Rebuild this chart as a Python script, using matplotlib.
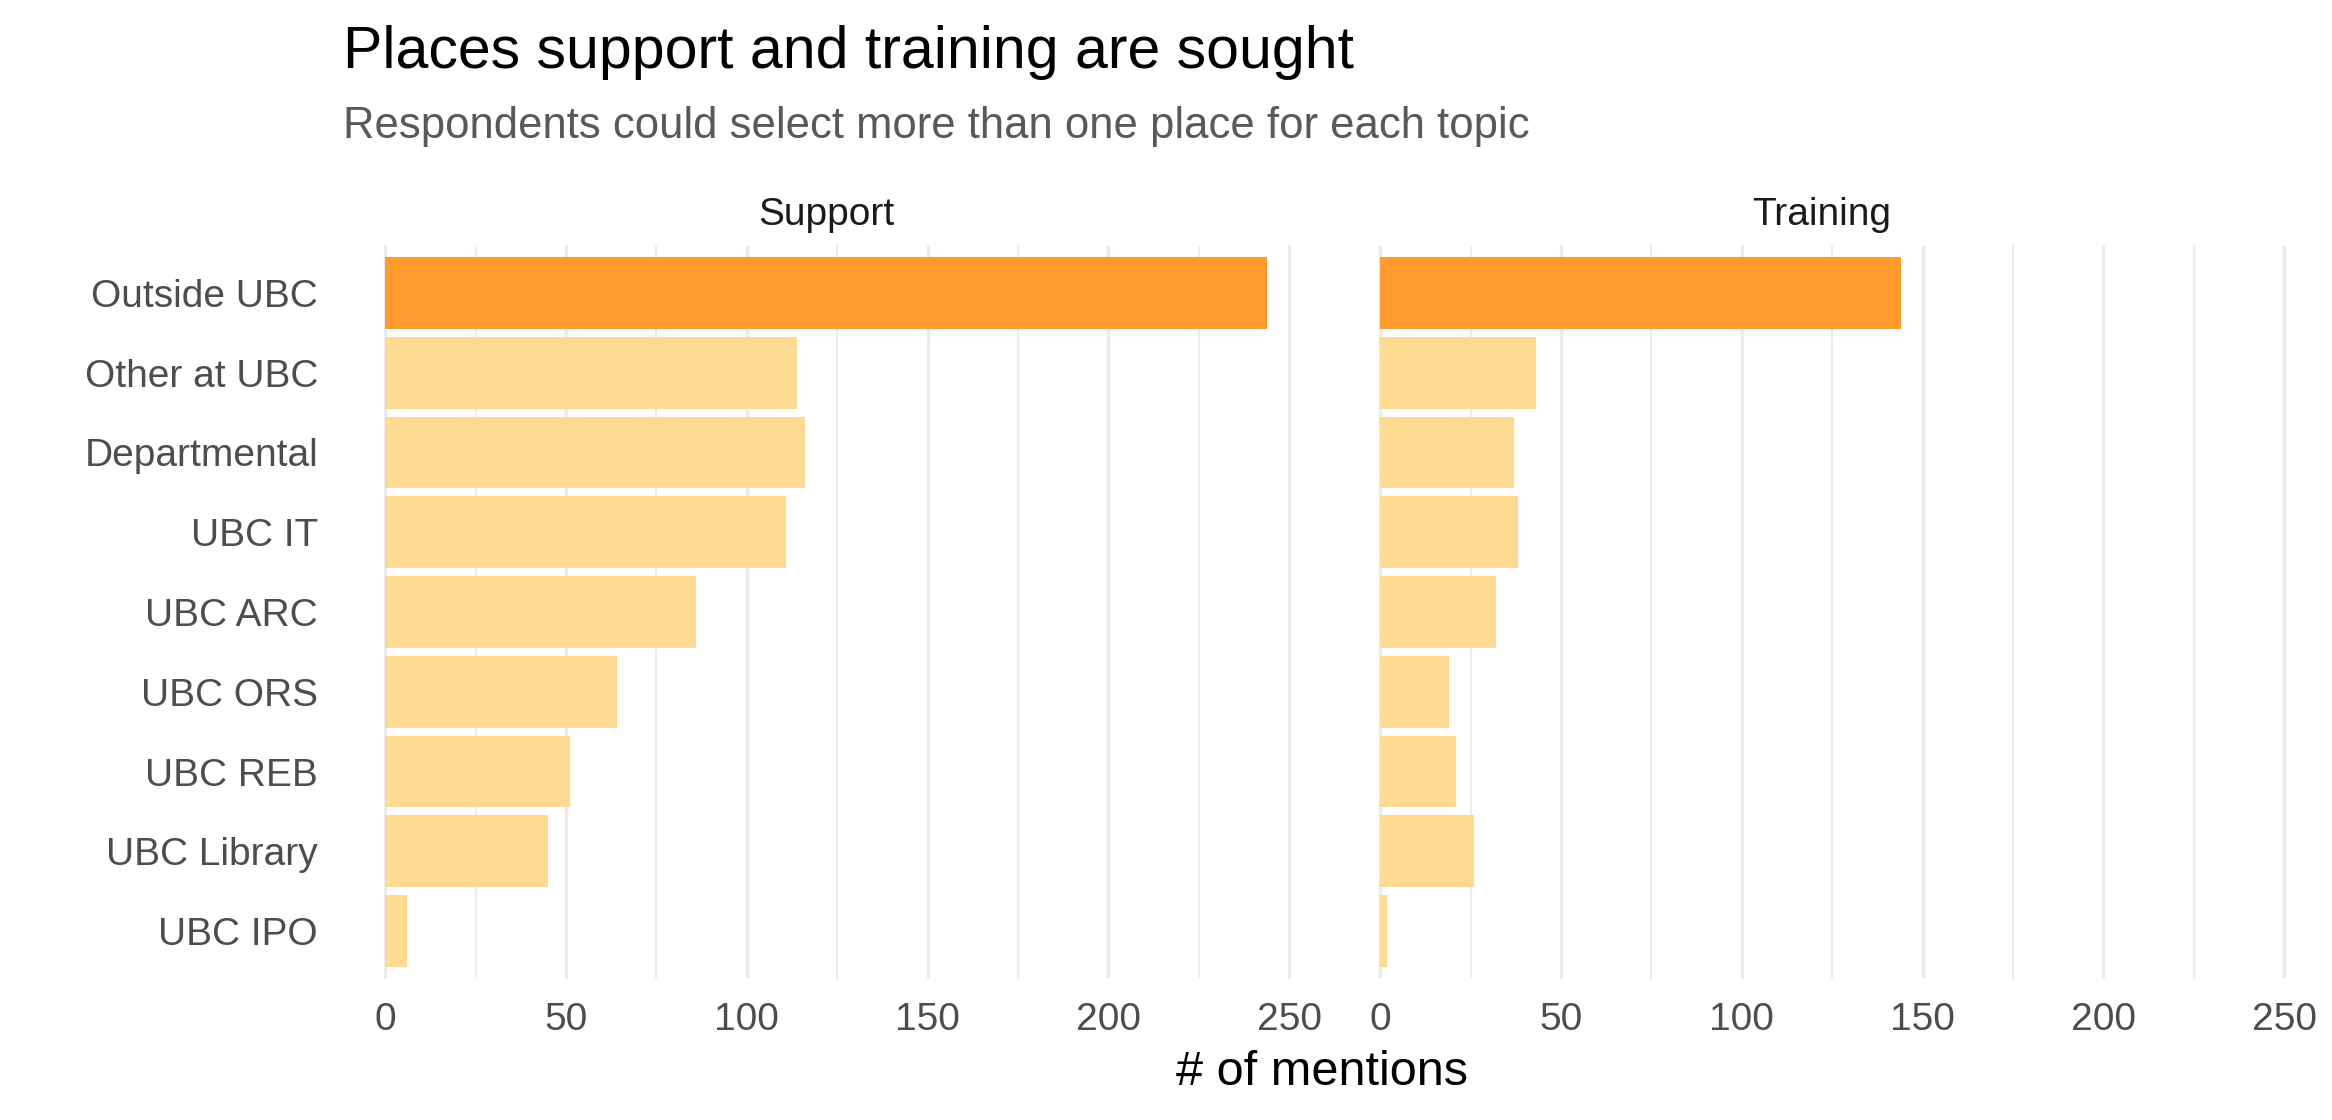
import matplotlib
matplotlib.use("Agg")
import matplotlib.pyplot as plt
import numpy as np

plt.rcParams["font.family"] = ["Liberation Sans", "DejaVu Sans"]

# data
places = ["Outside UBC", "Other at UBC", "Departmental", "UBC IT", "UBC ARC",
          "UBC ORS", "UBC REB", "UBC Library", "UBC IPO"]
support = [244, 114, 116, 111, 86, 64, 51, 45, 6]
training = [144, 43, 37, 38, 32, 19, 21, 26, 2]
highlight = ["Outside UBC"]
facets = ["Support", "Training"]
major_ticks = [0, 50, 100, 150, 200, 250]
minor_ticks = [25, 75, 125, 175, 225]

HI_COLOR = "#FE9A2E"
LO_COLOR = "#FDD991"
GRID = "#EBEBEB"

W, H = 2332, 1120
fig = plt.figure(figsize=(W / 100, H / 100), dpi=100)

xmax = max(max(support), max(training))
pad = 0.05 * xmax
xlim = (-pad, xmax + pad)
px_per_unit = 3.616
panel_w = (xlim[1] - xlim[0]) * px_per_unit
panel_top, panel_bot = 245, 979
lefts = [341, 1336]

ypos = np.arange(len(places))[::-1] + 1
colors = [HI_COLOR if p in highlight else LO_COLOR for p in places]

axes = []
for i, (name, vals) in enumerate(zip(facets, [support, training])):
    ax = fig.add_axes([lefts[i] / W, 1 - panel_bot / H, panel_w / W,
                       (panel_bot - panel_top) / H])
    ax.barh(ypos, vals, height=0.9, color=colors, zorder=2)
    ax.set_xlim(*xlim)
    ax.set_ylim(0.4, len(places) + 0.6)
    ax.set_xticks(major_ticks)
    ax.set_xticks(minor_ticks, minor=True)
    ax.grid(axis="x", which="major", color=GRID, linewidth=2.4, zorder=0)
    ax.grid(axis="x", which="minor", color=GRID, linewidth=1.3, zorder=0)
    ax.set_axisbelow(True)
    for s in ax.spines.values():
        s.set_visible(False)
    ax.tick_params(axis="both", which="both", length=0)
    ax.tick_params(axis="x", pad=16.5, labelsize=28, labelcolor="#4D4D4D")
    ax.set_yticks(ypos)
    if i == 0:
        ax.set_yticklabels(places)
        ax.tick_params(axis="y", pad=16.5, labelsize=28, labelcolor="#4D4D4D")
    else:
        ax.set_yticklabels([])
    ax.text(0.5, 1 + (panel_top - 225) / (panel_bot - panel_top), name,
            transform=ax.transAxes, ha="center", va="baseline",
            fontsize=28, color="#1A1A1A")
    axes.append(ax)

fig.text(343 / W, 1 - 68.3 / H, "Places support and training are sought",
         ha="left", va="baseline", fontsize=42.5, color="black")
fig.text(343 / W, 1 - 138.3 / H, "Respondents could select more than one place for each topic",
         ha="left", va="baseline", fontsize=31.4, color="#595959")
fig.text(1322 / W, 1 - 1085 / H, "# of mentions", ha="center", va="baseline",
         fontsize=35, color="black")

fig.savefig("out.png", dpi=100, facecolor="white")
